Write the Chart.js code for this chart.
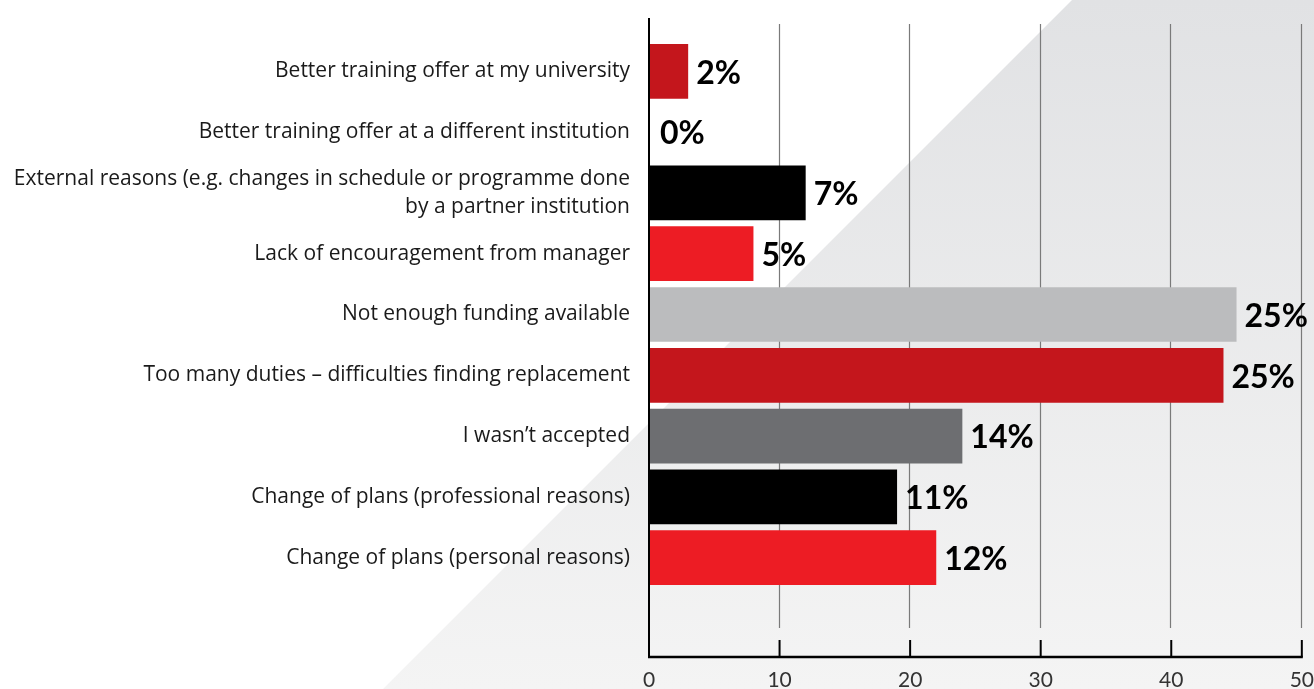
<!DOCTYPE html>
<html lang="en">
<head>
    <meta charset="UTF-8">
    <title>Reasons for not taking part</title>
    <script src="https://cdn.jsdelivr.net/npm/chart.js"></script>
    <style>
        html, body { margin: 0; padding: 0; background: #fff; }
        #wrap { width: 1314px; height: 689px; position: relative; }
    </style>
</head>
<body>
    <div id="wrap"><canvas id="reasonsChart"></canvas></div>

    <script>
        // data
        var categories = [
            'Better training offer at my university',
            'Better training offer at a different institution',
            ['External reasons (e.g. changes in schedule or programme done', 'by a partner institution'],
            'Lack of encouragement from manager',
            'Not enough funding available',
            'Too many duties \u2013 difficulties finding replacement',
            'I wasn\u2019t accepted',
            'Change of plans (professional reasons)',
            'Change of plans (personal reasons)'
        ];
        var barValues = [3, 0, 12, 8, 45, 44, 24, 19, 22];
        var valueLabels = ['2%', '0%', '7%', '5%', '25%', '25%', '14%', '11%', '12%'];
        var xTicks = [0, 10, 20, 30, 40, 50];

        var barColors = ['#C4161C', '#C4161C', '#000000', '#ED1C24', '#BBBCBE',
                         '#C4161C', '#6D6E71', '#000000', '#ED1C24'];

        var labelFont = "'Open Sans', 'Noto Sans', sans-serif";
        var valueFont = "Lato, sans-serif";
        var tickFont = "'Liberation Sans Narrow', Lato, sans-serif";

        // grey diagonal backdrop
        var backdrop = {
            id: 'backdrop',
            beforeDraw: function(chart) {
                var c = chart.ctx, w = chart.width, h = chart.height;
                c.save();
                c.fillStyle = '#fff';
                c.fillRect(0, 0, w, h);
                var g = c.createLinearGradient(0, 0, 0, h);
                g.addColorStop(0, '#E1E2E4');
                g.addColorStop(1, '#F4F4F4');
                c.fillStyle = g;
                c.beginPath();
                c.moveTo(1072, 0);
                c.lineTo(w, 0);
                c.lineTo(w, h);
                c.lineTo(383, h);
                c.closePath();
                c.fill();
                c.restore();
            }
        };

        // grid lines, axis lines and tick marks
        var frame = {
            id: 'frame',
            beforeDatasetsDraw: function(chart) {
                var c = chart.ctx, x = chart.scales.x;
                c.save();
                c.strokeStyle = '#7a7a7a';
                c.lineWidth = 1.2;
                xTicks.forEach(function(t) {
                    if (t === 0) return;
                    var px = Math.round(x.getPixelForValue(t)) - 0.5;
                    c.beginPath();
                    c.moveTo(px, 24);
                    c.lineTo(px, 628);
                    c.stroke();
                });
                c.restore();
            },
            afterDatasetsDraw: function(chart) {
                var c = chart.ctx, x = chart.scales.x;
                var x0 = x.getPixelForValue(0);
                c.save();
                c.strokeStyle = '#000';
                c.lineWidth = 2;
                c.beginPath();
                c.moveTo(x0, 18);
                c.lineTo(x0, 658);
                c.stroke();
                c.lineWidth = 2.5;
                c.beginPath();
                c.moveTo(x0 - 1, 657);
                c.lineTo(x.getPixelForValue(50) + 1, 657);
                c.stroke();
                c.lineWidth = 2;
                xTicks.forEach(function(t) {
                    var px = x.getPixelForValue(t);
                    c.beginPath();
                    c.moveTo(px, 640);
                    c.lineTo(px, 657);
                    c.stroke();
                });

                // value labels at the bar ends
                var meta = chart.getDatasetMeta(0);
                c.fillStyle = '#000';
                c.font = 'bold 32px ' + valueFont;
                c.textAlign = 'left';
                c.textBaseline = 'middle';
                meta.data.forEach(function(bar, i) {
                    var off = barValues[i] === 0 ? 11 : 8;
                    c.fillText(valueLabels[i], bar.x + off, bar.y + 2);
                });
                c.restore();
            }
        };

        var ctx = document.getElementById('reasonsChart').getContext('2d');
        var reasonsChart = new Chart(ctx, {
            type: 'bar',
            data: {
                labels: categories,
                datasets: [{
                    data: barValues,
                    backgroundColor: barColors,
                    borderWidth: 0,
                    barPercentage: 0.9,
                    categoryPercentage: 1.0
                }]
            },
            options: {
                indexAxis: 'y',
                responsive: true,
                maintainAspectRatio: false,
                animation: false,
                layout: { padding: { top: 41, right: 11, left: 0, bottom: 0 } },
                plugins: {
                    legend: { display: false },
                    tooltip: { enabled: false }
                },
                scales: {
                    x: {
                        min: 0,
                        max: 50,
                        afterBuildTicks: function(scale) {
                            scale.ticks = xTicks.map(function(v) { return { value: v }; });
                        },
                        afterFit: function(scale) { scale.height = 101; },
                        grid: { display: false, drawTicks: true, tickLength: 80 },
                        border: { display: false },
                        ticks: {
                            padding: 0,
                            color: '#333',
                            font: { family: tickFont, size: 21, lineHeight: 1.2 },
                            maxRotation: 0
                        }
                    },
                    y: {
                        afterFit: function(scale) { scale.width = 649; },
                        grid: { display: false, drawTicks: false },
                        border: { display: false },
                        ticks: {
                            padding: 19,
                            color: '#1a1a1a',
                            font: { family: labelFont, size: 21, lineHeight: 1.35 }
                        }
                    }
                }
            },
            plugins: [backdrop, frame]
        });
    </script>
</body>
</html>
